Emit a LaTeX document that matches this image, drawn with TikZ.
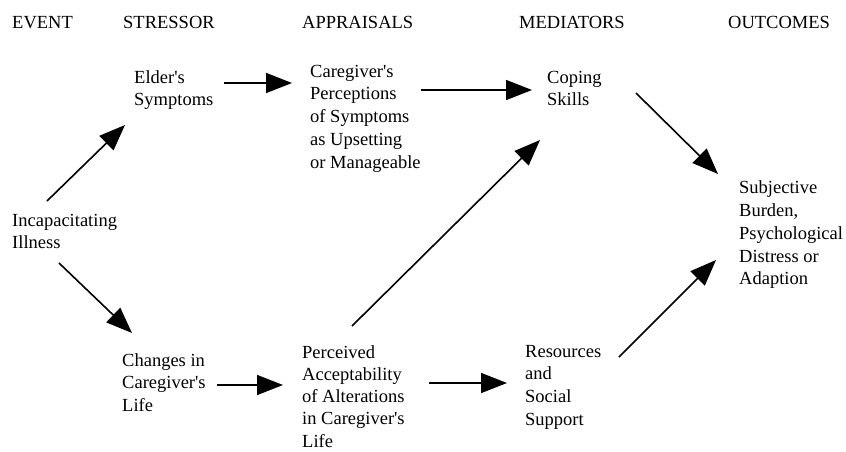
\documentclass[tikz,border=0pt]{standalone}
\usepackage{fontspec}
\setmainfont{Liberation Serif}
\usetikzlibrary{arrows.meta,calc}
\newcommand{\apo}{\textquotesingle}
\tikzset{
  lbl/.style={inner sep=0pt, anchor=north west, align=left, font=\fontsize{18.5}{22.8}\selectfont},
  hdr/.style={inner sep=0pt, anchor=base west, font=\fontsize{18.5}{22.8}\selectfont},
  arr/.style={line width=1.6pt, -{Triangle[length=26pt,width=20pt]}}
}
\begin{document}
\begin{tikzpicture}[x=1pt,y=-1pt]
\useasboundingbox (0,0) rectangle (846,451);
% headers
\node[hdr] (ev) at (12,28) {EVENT};
\node[hdr] (st) at (123,28) {STRESSOR};
\node[hdr] (ap) at (302,28) {APPRAISALS};
\node[hdr] (me) at (519,28) {MEDIATORS};
\node[hdr] (ou) at (728,28) {OUTCOMES};
% boxes
\node[lbl] (ill) at (12,210) {\strut Incapacitating\\Illness};
\node[lbl] (eld) at (134,67) {\strut Elder\apo s\\Symptoms};
\node[lbl] (chg) at (122,350) {\strut Changes in\\Caregiver\apo s\\Life};
\node[lbl] (perc) at (310,61) {\strut Caregiver\apo s\\Perceptions\\of Symptoms\\as Upsetting\\or Manageable};
\node[lbl, font=\fontsize{18.5}{22.1}\selectfont] (acc) at (302,343) {\strut Perceived\\Acceptability\\of Alterations\\in Caregiver\apo s\\Life};
\node[lbl] (cop) at (547,67) {\strut Coping\\Skills};
\node[lbl] (res) at (525,341) {\strut Resources\\and\\Social\\Support};
\node[lbl] (subj) at (739,177.5) {\strut Subjective\\Burden,\\Psychological\\Distress or\\Adaption};
% arrows
\draw[arr] ($(ill.north west)+(35,-9)$) -- ($(eld.north west)+(-9,58)$);
\draw[arr] ($(eld.north west)+(90,16)$) -- ($(perc.north west)+(-18,22)$);
\draw[arr] ($(perc.north west)+(111,29)$) -- ($(cop.north west)+(-15,23)$);
\draw[arr] ($(cop.north west)+(89,26)$) -- ($(subj.north west)+(-21,-3.5)$);
\draw[arr] ($(acc.north west)+(50,-17)$) -- ($(cop.north west)+(-7,73)$);
\draw[arr] ($(ill.north west)+(47,53)$) -- ($(chg.north west)+(10,-17)$);
\draw[arr] ($(chg.north west)+(95,35)$) -- ($(acc.north west)+(-19,42)$);
\draw[arr] ($(acc.north west)+(127,40)$) -- ($(res.north west)+(-18,42)$);
\draw[arr] ($(res.north west)+(94,16)$) -- ($(subj.north west)+(-23,82.5)$);
\end{tikzpicture}
\end{document}
